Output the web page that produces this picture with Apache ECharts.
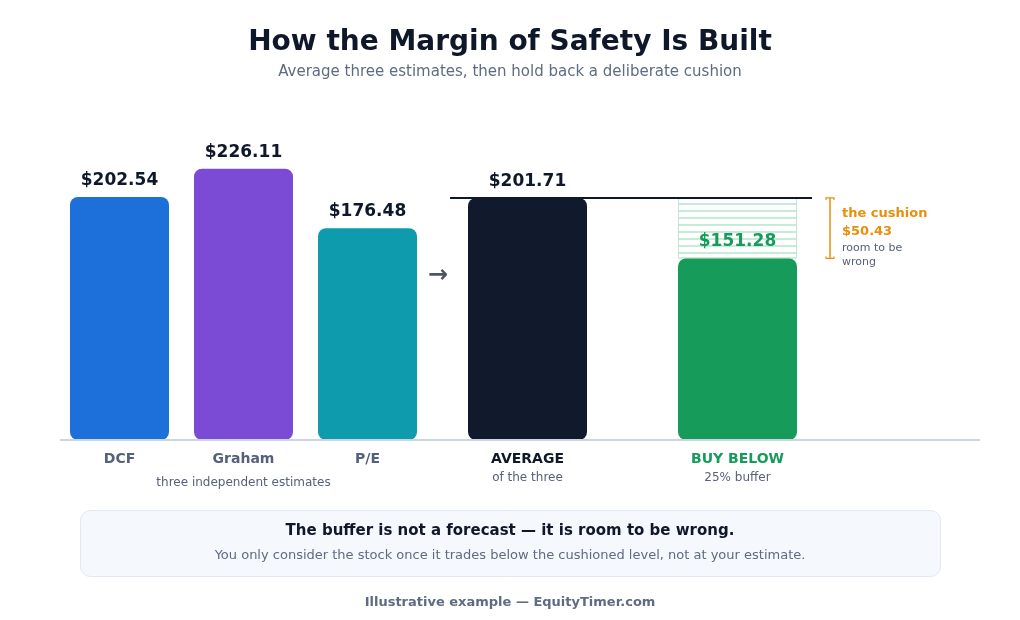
<!DOCTYPE html>
<html><head><meta charset="utf-8">
<script src="https://cdn.jsdelivr.net/npm/echarts@6/dist/echarts.min.js"></script>
<style>html,body{margin:0;padding:0;background:#fff}#c{width:1020px;height:620px}</style>
</head><body><div id="c"></div>
<script>
// ---- data ----
const estimateNames = ['DCF', 'Graham', 'P/E'];
const estimateValues = [202.54, 226.11, 176.48];
const resultNames = ['AVERAGE', 'BUY BELOW'];
const resultSubs = ['of the three', '25% buffer'];
const averageValue = 201.71;
const buyBelowValue = 151.28;
const cushionValue = 50.43;
const estimateGroupNote = 'three independent estimates';

const FONT = 'DejaVu Sans';
const estColors = ['#1d6fd9', '#7b4bd5', '#0e9bae'];
const avgColor = '#101a2c';
const buyColor = '#169b5a';
const orange = '#e98f0b';
const slate = '#55617a';
const dark = '#0f172a';
const money = v => '$' + v.toFixed(2);

const chart = echarts.init(document.getElementById('c'), null, {renderer: 'canvas'});
const yAxisCommon = {type: 'value', min: 0, max: 300, show: false};
const option = {
  animation: false,
  backgroundColor: '#ffffff',
  textStyle: {fontFamily: FONT},
  title: {
    text: 'How the Margin of Safety Is Built',
    subtext: 'Average three estimates, then hold back a deliberate cushion',
    left: 'center', top: 24, itemGap: 8,
    textStyle: {fontFamily: FONT, fontSize: 28, fontWeight: 'bold', color: dark},
    subtextStyle: {fontFamily: FONT, fontSize: 15, color: '#5f6b82'}
  },
  grid: [
    {left: 57.5, width: 372, top: 80, bottom: 180},
    {left: 422.5, width: 420, top: 80, bottom: 180}
  ],
  xAxis: [
    {type: 'category', gridIndex: 0, data: estimateNames,
     axisLine: {show: false}, axisTick: {show: false},
     axisLabel: {margin: 7, interval: 0,
       formatter: v => v === 'Graham' ? '{n|' + v + '}\n{s|' + estimateGroupNote + '}' : '{n|' + v + '}',
       rich: {
         n: {fontFamily: FONT, fontSize: 14, fontWeight: 'bold', color: slate, lineHeight: 24},
         s: {fontFamily: FONT, fontSize: 12, color: slate, lineHeight: 24}
       }}},
    {type: 'category', gridIndex: 1, data: resultNames,
     axisLine: {show: false}, axisTick: {show: false},
     axisLabel: {margin: 7, interval: 0,
       formatter: (v, i) => '{' + (i === 0 ? 'a' : 'b') + '|' + v + '}\n{s|' + resultSubs[i] + '}',
       rich: {
         a: {fontFamily: FONT, fontSize: 14, fontWeight: 'bold', color: dark, lineHeight: 24},
         b: {fontFamily: FONT, fontSize: 14, fontWeight: 'bold', color: buyColor, lineHeight: 24},
         s: {fontFamily: FONT, fontSize: 12, color: slate, lineHeight: 14}
       }}}
  ],
  yAxis: [
    Object.assign({gridIndex: 0}, yAxisCommon),
    Object.assign({gridIndex: 1}, yAxisCommon)
  ],
  series: [
    {type: 'bar', xAxisIndex: 0, yAxisIndex: 0, barWidth: 99,
     data: estimateValues.map((v, i) => ({value: v, itemStyle: {color: estColors[i]}})),
     itemStyle: {borderRadius: 8},
     label: {show: true, position: 'top', distance: 8, formatter: p => money(p.value),
       fontFamily: FONT, fontSize: 17, fontWeight: 'bold', color: dark}},
    {type: 'bar', xAxisIndex: 1, yAxisIndex: 1, barWidth: 119, stack: 'r',
     data: [
       {value: averageValue, itemStyle: {color: avgColor},
        label: {color: dark, distance: 8}},
       {value: buyBelowValue, itemStyle: {color: buyColor},
        label: {color: buyColor, distance: 8}}
     ],
     itemStyle: {borderRadius: 8},
     label: {show: true, position: 'top', formatter: p => money(p.value),
       fontFamily: FONT, fontSize: 17, fontWeight: 'bold'}},
    {type: 'bar', xAxisIndex: 1, yAxisIndex: 1, barWidth: 119, stack: 'r', z: 1,
     data: ['-', averageValue - buyBelowValue],
     itemStyle: {color: '#ffffff', borderColor: '#bfe6d1', borderWidth: 1,
       decal: {symbol: 'rect', symbolSize: 1, color: '#c6ebd7',
         dashArrayX: [1, 0], dashArrayY: [2, 5], rotation: 0}}}
  ]
};
chart.setOption(option);

const yAvg = chart.convertToPixel({yAxisIndex: 1}, averageValue);
const yBuy = chart.convertToPixel({yAxisIndex: 1}, buyBelowValue);
const yBase = chart.convertToPixel({yAxisIndex: 1}, 0);
const bx = 830;
chart.setOption({
  graphic: [
    {type: 'line', shape: {x1: 60, y1: yBase, x2: 980, y2: yBase},
     style: {stroke: '#cbd5e1', lineWidth: 2}, z: 10},
    {type: 'line', shape: {x1: 450, y1: yAvg, x2: 812, y2: yAvg},
     style: {stroke: dark, lineWidth: 2}, z: 10},
    {type: 'text', x: 438, y: 276, style: {text: '→', font: 'bold 24px ' + FONT, fill: '#4b5568',
      textAlign: 'center', textVerticalAlign: 'middle'}},
    {type: 'line', shape: {x1: bx, y1: yAvg, x2: bx, y2: yBuy}, style: {stroke: orange, lineWidth: 1.5}},
    {type: 'polyline', shape: {points: [[bx - 4, yAvg + 2], [bx - 4, yAvg], [bx + 4, yAvg], [bx + 4, yAvg + 2]]}, style: {stroke: orange, lineWidth: 1.2, fill: null}},
    {type: 'polyline', shape: {points: [[bx - 4, yBuy - 2], [bx - 4, yBuy], [bx + 4, yBuy], [bx + 4, yBuy - 2]]}, style: {stroke: orange, lineWidth: 1.2, fill: null}},
    {type: 'text', x: 842, y: yAvg + 16, style: {text: 'the cushion', font: 'bold 13px ' + FONT, fill: orange, textVerticalAlign: 'middle'}},
    {type: 'text', x: 842, y: yAvg + 34, style: {text: money(cushionValue), font: 'bold 13px ' + FONT, fill: orange, textVerticalAlign: 'middle'}},
    {type: 'text', x: 842, y: yAvg + 50, style: {text: 'room to be', font: '11px ' + FONT, fill: slate, textVerticalAlign: 'middle'}},
    {type: 'text', x: 842, y: yAvg + 64, style: {text: 'wrong', font: '11px ' + FONT, fill: slate, textVerticalAlign: 'middle'}},
    {type: 'rect', shape: {x: 80.5, y: 510.5, width: 860, height: 66, r: 10},
     style: {fill: '#f5f8fc', stroke: '#e2e8f0', lineWidth: 1}},
    {type: 'text', x: 510, y: 531, style: {text: 'The buffer is not a forecast — it is room to be wrong.',
      font: 'bold 15px ' + FONT, fill: dark, textAlign: 'center', textVerticalAlign: 'middle'}},
    {type: 'text', x: 510, y: 556, style: {text: 'You only consider the stock once it trades below the cushioned level, not at your estimate.',
      font: '13px ' + FONT, fill: '#5f6b82', textAlign: 'center', textVerticalAlign: 'middle'}},
    {type: 'text', x: 510, y: 603, style: {text: 'Illustrative example — EquityTimer.com',
      font: 'bold 13px ' + FONT, fill: '#5f6b82', textAlign: 'center', textVerticalAlign: 'middle'}}
  ]
});
</script></body></html>
